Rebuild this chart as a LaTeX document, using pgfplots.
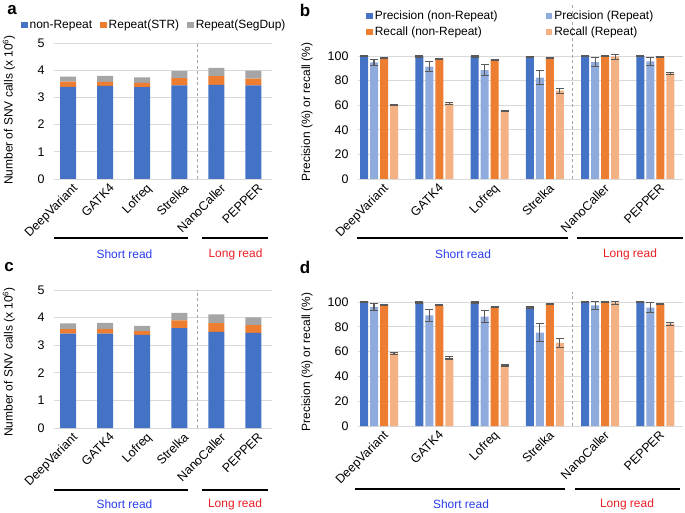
\documentclass[border=0pt]{standalone}
\usepackage{pgfplots}
\pgfplotsset{compat=1.18}
\usepackage{pgfplotstable}
\usepackage{fontspec}
\setmainfont{Liberation Sans}
\definecolor{cBlue}{HTML}{4472C4}
\definecolor{cLBlue}{HTML}{8FAADC}
\definecolor{cOrange}{HTML}{ED7D31}
\definecolor{cLOrange}{HTML}{F4B183}
\definecolor{cGray}{HTML}{A5A5A5}
\definecolor{cGrid}{HTML}{D9D9D9}
\definecolor{cErr}{HTML}{595959}
\definecolor{cShort}{RGB}{40,60,235}
\definecolor{cLong}{RGB}{235,30,35}

\pgfplotstableread{
x b o g
0 3.39 0.19 0.18
1 3.42 0.15 0.22
2 3.38 0.15 0.21
3 3.44 0.27 0.26
4 3.46 0.32 0.31
5 3.44 0.25 0.29
}\dataA

\pgfplotstableread{
x b o g
0 3.42 0.16 0.21
1 3.42 0.16 0.23
2 3.37 0.14 0.19
3 3.62 0.28 0.27
4 3.48 0.32 0.32
5 3.45 0.28 0.28
}\dataC

\pgfplotstableread{
x pn pne pr pre rn rne rr rre
0 99.8 0.4 94.8 2.7 98.4 0.4 59.9 0.5
1 99.6 0.4 91.3 4.0 97.8 0.4 61.2 0.7
2 99.6 0.4 88.6 4.6 97.0 0.4 55.3 0.6
3 99.0 0.5 82.4 5.8 98.6 0.4 71.8 2.0
4 99.8 0.4 95.0 3.5 99.7 0.4 99.5 2.0
5 99.8 0.4 95.6 3.0 99.2 0.4 85.9 1.0
}\dataB

\pgfplotstableread{
x pn pne pr pre rn rne rr rre
0 99.8 0.4 96.0 2.7 97.9 0.4 58.5 0.6
1 99.6 0.4 89.3 5.0 97.3 0.4 55.0 1.0
2 99.6 0.4 88.2 4.7 95.8 0.4 48.5 0.7
3 95.2 0.8 75.4 7.0 98.1 0.4 67.0 3.7
4 99.8 0.4 97.3 3.0 99.7 0.4 99.2 1.5
5 99.8 0.4 95.5 4.3 98.7 0.4 82.6 1.2
}\dataD

\pgfplotsset{
  base/.style={
    scale only axis,
    clip=false,
    axis line style={draw=none},
    major tick length=0pt,
    ymajorgrids,
    grid style={cGrid, line width=0.9bp},
    xtick={0,...,5},
    xticklabels={DeepVariant,GATK4,Lofreq,Strelka,NanoCaller,PEPPER},
    xticklabel style={rotate=45, anchor=north east, font=\fontsize{12.5}{14}\selectfont, inner sep=0bp, xshift=0bp, yshift=-5bp},
    yticklabel style={font=\fontsize{12.5}{14}\selectfont, xshift=-6bp},
    /pgf/number format/assume math mode=true,
    xmin=-0.38, xmax=5.5,
    ymin=0,
    legend style={draw=none, fill=none, font=\fontsize{12}{14}\selectfont, inner xsep=0pt, inner ysep=0pt},
    legend cell align=left,
  },
  stackax/.style={base, ybar stacked, bar width=16bp, ymax=5, ytick={0,...,5}, width=218bp,
    legend image code/.code={\fill[##1] (0bp,-3.3bp) rectangle (6.6bp,3.3bp);}},
  prax/.style={base, ybar, bar width=8bp, ymax=100, ytick={0,20,...,100}, width=325bp,
    legend image code/.code={\fill[##1] (0bp,-3.3bp) rectangle (6.6bp,3.3bp);}},
  errs/.style={error bars/.cd, y dir=both, y explicit,
    error bar style={cErr, line width=1.1bp},
    error mark options={cErr, line width=1.1bp, mark size=4bp, rotate=90}},
}

\begin{document}
\begin{tikzpicture}
\path[use as bounding box] (0,0) rectangle (685bp,513bp);

% ---------------- panel a ----------------
\begin{axis}[stackax, at={(54bp,334bp)}, anchor=south west, height=136bp,
  legend columns=3,
  legend style={at={(0.46,1.132)}, anchor=center, /tikz/every even column/.append style={column sep=6bp}}]
\addplot[fill=cBlue, draw=none] table[x=x, y=b] {\dataA};
\addplot[fill=cOrange, draw=none] table[x=x, y=o] {\dataA};
\addplot[fill=cGray, draw=none] table[x=x, y=g] {\dataA};
\legend{non-Repeat, Repeat(STR), Repeat(SegDup)}
\draw[cGray, dash pattern=on 3bp off 2.5bp, line width=0.9bp] (axis cs:3.5,0) -- (axis cs:3.5,5);
\end{axis}

% ---------------- panel b ----------------
\begin{axis}[prax, at={(358bp,334bp)}, anchor=south west, height=123bp,
  legend columns=2,
  legend style={at={(0.47,1.26)}, anchor=center, /tikz/every even column/.append style={column sep=46bp}, row sep=2bp}]
\addplot[fill=cBlue, draw=none, bar shift=-15bp, errs] table[x=x, y=pn, y error=pne] {\dataB};
\addplot[fill=cLBlue, draw=none, bar shift=-5bp, errs] table[x=x, y=pr, y error=pre] {\dataB};
\addplot[fill=cOrange, draw=none, bar shift=5bp, errs] table[x=x, y=rn, y error=rne] {\dataB};
\addplot[fill=cLOrange, draw=none, bar shift=15bp, errs] table[x=x, y=rr, y error=rre] {\dataB};
\legend{Precision (non-Repeat), Precision (Repeat), Recall (non-Repeat), Recall (Repeat)}
\draw[cGray, dash pattern=on 3bp off 2.5bp, line width=0.9bp] (axis cs:3.5,0) -- (axis cs:3.5,143);
\end{axis}

% ---------------- panel c ----------------
\begin{axis}[stackax, at={(54bp,85bp)}, anchor=south west, height=138bp]
\addplot[fill=cBlue, draw=none] table[x=x, y=b] {\dataC};
\addplot[fill=cOrange, draw=none] table[x=x, y=o] {\dataC};
\addplot[fill=cGray, draw=none] table[x=x, y=g] {\dataC};
\draw[cGray, dash pattern=on 3bp off 2.5bp, line width=0.9bp] (axis cs:3.5,0) -- (axis cs:3.5,5);
\end{axis}

% ---------------- panel d ----------------
\begin{axis}[prax, at={(358bp,87bp)}, anchor=south west, height=124bp]
\addplot[fill=cBlue, draw=none, bar shift=-15bp, errs] table[x=x, y=pn, y error=pne] {\dataD};
\addplot[fill=cLBlue, draw=none, bar shift=-5bp, errs] table[x=x, y=pr, y error=pre] {\dataD};
\addplot[fill=cOrange, draw=none, bar shift=5bp, errs] table[x=x, y=rn, y error=rne] {\dataD};
\addplot[fill=cLOrange, draw=none, bar shift=15bp, errs] table[x=x, y=rr, y error=rre] {\dataD};
\draw[cGray, dash pattern=on 3bp off 2.5bp, line width=0.9bp] (axis cs:3.5,0) -- (axis cs:3.5,108);
\end{axis}

% ---------------- labels ----------------
\begin{scope}[every node/.style={font=\fontsize{12}{14}\selectfont}]
\node[font=\fontsize{17}{19}\selectfont\bfseries] at (12bp,503bp) {a};
\node[font=\fontsize{17}{19}\selectfont\bfseries] at (305bp,503bp) {b};
\node[font=\fontsize{17}{19}\selectfont\bfseries] at (9bp,246bp) {c};
\node[font=\fontsize{17}{19}\selectfont\bfseries] at (305bp,246bp) {d};

\node[rotate=90] at (9bp,403bp) {Number of SNV calls (x 10\textsuperscript{6})};
\node[rotate=90] at (307bp,401bp) {Precision (\%) or recall (\%)};
\node[rotate=90] at (9bp,151bp) {Number of SNV calls (x 10\textsuperscript{6})};
\node[rotate=90] at (307bp,151bp) {Precision (\%) or recall (\%)};

% brackets
\draw[line width=1.6bp] (54bp,275bp) -- (188bp,275bp);
\draw[line width=1.6bp] (202bp,275bp) -- (268bp,275bp);
\node[text=cShort] at (124.5bp,259bp) {Short read};
\node[text=cLong] at (235.5bp,259bp) {Long read};

\draw[line width=1.6bp] (357bp,275bp) -- (568bp,275bp);
\draw[line width=1.6bp] (577bp,275bp) -- (683bp,275bp);
\node[text=cShort] at (463bp,259bp) {Short read};
\node[text=cLong] at (630bp,259bp) {Long read};

\draw[line width=1.6bp] (54bp,23bp) -- (188bp,23bp);
\draw[line width=1.6bp] (202bp,23bp) -- (268bp,23bp);
\node[text=cShort] at (124.5bp,9bp) {Short read};
\node[text=cLong] at (235bp,9bp) {Long read};

\draw[line width=1.6bp] (355bp,24bp) -- (565bp,24bp);
\draw[line width=1.6bp] (575bp,24bp) -- (680bp,24bp);
\node[text=cShort] at (461bp,9bp) {Short read};
\node[text=cLong] at (627bp,9bp) {Long read};
\end{scope}
\end{tikzpicture}
\end{document}
